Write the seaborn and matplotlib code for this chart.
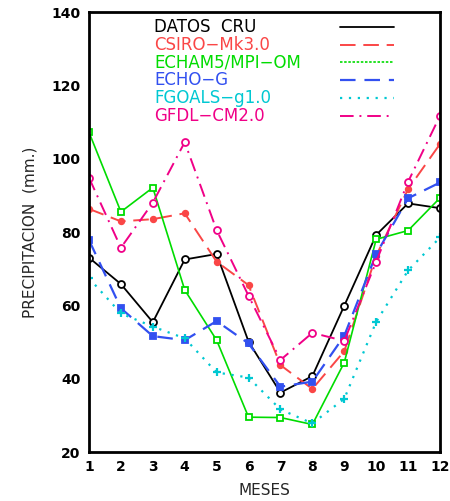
import matplotlib
matplotlib.use("Agg")
import matplotlib.pyplot as plt
import seaborn as sns
import numpy as np

sns.set_style("white")
plt.rcParams['font.family'] = ['DejaVu Sans']

months = list(range(1, 13))
cru = [73.0, 65.8, 55.4, 72.5, 74.0, 50.1, 36.2, 40.7, 59.9, 79.2, 87.8, 86.5]
csiro = [86.3, 82.9, 83.5, 85.1, 71.9, 65.5, 43.7, 37.2, 47.5, 73.5, 91.7, 104.0]
echam = [107.2, 85.5, 92.1, 64.2, 50.5, 29.5, 29.4, 27.5, 44.4, 78.0, 80.4, 89.3]
echo = [77.8, 59.2, 51.6, 50.5, 55.7, 49.6, 37.8, 39.2, 51.7, 74.0, 89.2, 93.5]
fgoals = [67.4, 57.8, 54.2, 51.0, 41.7, 40.3, 31.6, 27.8, 34.5, 55.5, 69.5, 78.5]
gfdl = [94.8, 75.7, 88.0, 104.5, 80.5, 62.6, 45.1, 52.5, 50.3, 71.9, 93.7, 111.7]

names = ["DATOS  CRU", "CSIRO\u2212Mk3.0", "ECHAM5/MPI\u2212OM", "ECHO\u2212G", "FGOALS\u2212g1.0", "GFDL\u2212CM2.0"]
series = [cru, csiro, echam, echo, fgoals, gfdl]
colors = ["black", "#fa4646", "#00dc00", "#3250f0", "#00c8d2", "#f00087"]
styles = ["-", (0, (8, 4)), "-", (0, (7, 4)), (0, (1, 3)), (0, (7, 3, 1, 3))]
leg_styles = ["-", (0, (8, 4)), (0, (1.5, 1)), (0, (7, 4)), (0, (1, 3)), (0, (7, 3, 1, 3))]
widths = [1.3, 1.4, 1.2, 1.6, 1.6, 1.4]
markers = ["o", "o", "s", "s", "P", "o"]
mfcs = ["white", "#fa4646", "white", "#3250f0", "#00c8d2", "white"]
msizes = [5, 4, 5, 4.5, 0, 5]

fig = plt.figure(figsize=(4.5, 5.01), dpi=100)
ax = fig.add_axes([89/450, 1-452/501, (440-89)/450, 440/501])

for name, vals, c, ls, lw, m, mfc, ms in zip(names, series, colors, styles, widths, markers, mfcs, msizes):
    sns.lineplot(x=months, y=vals, ax=ax, color=c, linestyle=ls, linewidth=lw,
                 marker=m if ms > 0 else None, markersize=ms, markerfacecolor=mfc,
                 markeredgecolor=c, markeredgewidth=1.3)
    if ms == 0:
        ax.plot(months, vals, linestyle="none", marker="+", markersize=6,
                markeredgewidth=1.6, color=c)

ax.set_xlim(1, 12)
ax.set_ylim(20, 140)
ax.set_xticks(months)
ax.set_yticks(np.arange(20, 141, 20))
ax.tick_params(axis="both", direction="out", length=4, width=1.5, labelsize=10,
               colors="black", pad=2)
for lab in ax.get_xticklabels() + ax.get_yticklabels():
    lab.set_fontweight("bold")
for sp in ax.spines.values():
    sp.set_linewidth(2.0)
    sp.set_color("black")

ax.set_xlabel("MESES", fontsize=11, labelpad=6)
ax.set_ylabel("PRECIPITACION  (mm.)", fontsize=11, labelpad=10)

# legend drawn manually (text left, line sample right)
ys = [0.966, 0.925, 0.886, 0.845, 0.805, 0.764]
for name, c, ls, lw, y in zip(names, colors, leg_styles, widths, ys):
    ax.text(0.185, y, name, color=c, fontsize=12, transform=ax.transAxes,
            va="center", ha="left")
    ax.plot([0.715, 0.869], [y, y], color=c, linestyle=ls, linewidth=lw,
            transform=ax.transAxes)

fig.savefig("out.png", dpi=100)
